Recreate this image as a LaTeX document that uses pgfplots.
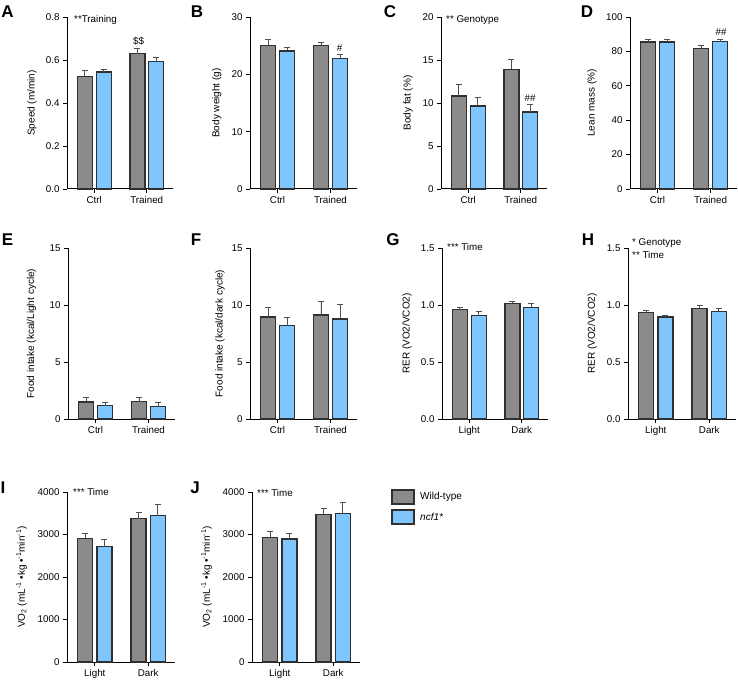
\documentclass[border=0pt]{standalone}
\usepackage{fontspec}
\setmainfont{Liberation Sans}
\usepackage{pgfplots}
\pgfplotsset{compat=1.18}
\definecolor{wtgray}{HTML}{8C8A8B}
\definecolor{koblue}{HTML}{7EC6FD}
\definecolor{edge}{HTML}{303030}
\definecolor{errc}{HTML}{505050}
\pgfplotsset{
 panel/.style={
  scale only axis, anchor=south west, clip=false,
  axis x line=bottom, axis y line=left,
  axis line style={-, line width=1pt, black},
  xmin=0.48, xmax=2.5, ymin=0,
  xtick={1,2},
  tick align=outside, major tick length=4pt,
  tick style={line width=0.9pt, black},
  ticklabel style={font=\fontsize{9.8}{11}\selectfont},
  /pgf/number format/assume math mode=true,
  /pgf/number format/set thousands separator={},
  label style={font=\fontsize{9.8}{11}\selectfont},
  every axis y label/.style={rotate=90, anchor=center},
 },
 bars/.style={ybar, bar width=15pt, bar shift=0pt, draw=edge, line width=1.4pt,
   error bars/y dir=plus, error bars/y explicit, error bars/error mark=-,
   error bars/error bar style={line width=0.9pt, color=errc},
   error bars/error mark options={rotate=90, mark size=3pt, line width=0.9pt, color=errc}},
 wt/.style={fill=wtgray, bars},
 ko/.style={fill=koblue, bars},
}
\begin{document}
\begin{tikzpicture}
% ---------- A ----------
\begin{axis}[panel, at={(67pt,497pt)}, width=106pt, height=172pt, ymax=0.8,
  ytick={0,0.2,0.4,0.6,0.8}, xticklabels={Ctrl,Trained},
  yticklabel style={/pgf/number format/.cd, fixed, fixed zerofill, precision=1},
  ylabel={Speed (m/min)}, ylabel style={at={(axis description cs:-0.33,0.5)}}]
\addplot[wt] table[x=x,y=y,y error=e]{
x y e
0.82 0.524 0.028
1.82 0.629 0.025
};
\addplot[ko] table[x=x,y=y,y error=e]{
x y e
1.18 0.544 0.013
2.18 0.592 0.022
};
\end{axis}
% ---------- B ----------
\begin{axis}[panel, at={(250pt,497pt)}, width=107pt, height=172pt, ymax=30,
  ytick={0,10,20,30}, xticklabels={Ctrl,Trained},
  ylabel={Body weight (g)}, ylabel style={at={(axis description cs:-0.31,0.5)}}]
\addplot[wt] table[x=x,y=y,y error=e]{
x y e
0.82 25.06 0.94
1.82 25.06 0.55
};
\addplot[ko] table[x=x,y=y,y error=e]{
x y e
1.18 24.07 0.65
2.18 22.73 0.67
};
\end{axis}
% ---------- C ----------
\begin{axis}[panel, at={(441pt,497pt)}, width=106pt, height=172pt, ymax=20,
  ytick={0,5,10,15,20}, xticklabels={Ctrl,Trained},
  ylabel={Body fat (\%)}, ylabel style={at={(axis description cs:-0.31,0.5)}}]
\addplot[wt] table[x=x,y=y,y error=e]{
x y e
0.82 10.8 1.35
1.82 13.9 1.17
};
\addplot[ko] table[x=x,y=y,y error=e]{
x y e
1.18 9.67 0.98
2.18 8.97 0.86
};
\end{axis}
% ---------- D ----------
\begin{axis}[panel, at={(630pt,497pt)}, width=107pt, height=172pt, ymax=100,
  ytick={0,20,40,60,80,100}, xticklabels={Ctrl,Trained},
  ylabel={Lean mass (\%)}, ylabel style={at={(axis description cs:-0.355,0.5)}}]
\addplot[wt] table[x=x,y=y,y error=e]{
x y e
0.82 85.4 1.8
1.82 81.6 1.7
};
\addplot[ko] table[x=x,y=y,y error=e]{
x y e
1.18 85.4 1.4
2.18 85.6 1.2
};
\end{axis}
% ---------- E ----------
\begin{axis}[panel, at={(68pt,267pt)}, width=107pt, height=171pt, ymax=15,
  ytick={0,5,10,15}, xticklabels={Ctrl,Trained},
  ylabel={Food intake (kcal/Light cycle)}, ylabel style={at={(axis description cs:-0.34,0.5)}}]
\addplot[wt] table[x=x,y=y,y error=e]{
x y e
0.82 1.49 0.41
1.82 1.52 0.41
};
\addplot[ko] table[x=x,y=y,y error=e]{
x y e
1.18 1.17 0.32
2.18 1.08 0.35
};
\end{axis}
% ---------- F ----------
\begin{axis}[panel, at={(250pt,267pt)}, width=107pt, height=171pt, ymax=15,
  ytick={0,5,10,15}, xticklabels={Ctrl,Trained},
  ylabel={Food intake (kcal/dark cycle)}, ylabel style={at={(axis description cs:-0.28,0.5)}}]
\addplot[wt] table[x=x,y=y,y error=e]{
x y e
0.82 8.95 0.87
1.82 9.12 1.20
};
\addplot[ko] table[x=x,y=y,y error=e]{
x y e
1.18 8.19 0.76
2.18 8.77 1.26
};
\end{axis}
% ---------- G ----------
\begin{axis}[panel, at={(442pt,267pt)}, width=106pt, height=171pt, ymax=1.5,
  ytick={0,0.5,1,1.5}, xticklabels={Light,Dark},
  yticklabel style={/pgf/number format/.cd, fixed, fixed zerofill, precision=1},
  ylabel={RER (VO2/VCO2)}, ylabel style={at={(axis description cs:-0.33,0.5)}}]
\addplot[wt] table[x=x,y=y,y error=e]{
x y e
0.82 0.959 0.021
1.82 1.015 0.015
};
\addplot[ko] table[x=x,y=y,y error=e]{
x y e
1.18 0.906 0.034
2.18 0.980 0.035
};
\end{axis}
% ---------- H ----------
\begin{axis}[panel, at={(628pt,267pt)}, width=108pt, height=171pt, ymax=1.5,
  ytick={0,0.5,1,1.5}, xticklabels={Light,Dark},
  yticklabel style={/pgf/number format/.cd, fixed, fixed zerofill, precision=1},
  ylabel={RER (VO2/VCO2)}, ylabel style={at={(axis description cs:-0.33,0.5)}}]
\addplot[wt] table[x=x,y=y,y error=e]{
x y e
0.82 0.933 0.017
1.82 0.971 0.028
};
\addplot[ko] table[x=x,y=y,y error=e]{
x y e
1.18 0.893 0.017
2.18 0.943 0.027
};
\end{axis}
% ---------- I ----------
\begin{axis}[panel, at={(67pt,24pt)}, width=108pt, height=170pt, ymax=4000,
  ytick={0,1000,2000,3000,4000}, xticklabels={Light,Dark},
  ylabel={VO\textsubscript{2} (mL\textsuperscript{-1} •kg •\textsuperscript{-1}min\textsuperscript{-1})},
  ylabel style={at={(axis description cs:-0.42,0.5)}}]
\addplot[wt] table[x=x,y=y,y error=e]{
x y e
0.82 2910 110
1.82 3373 141
};
\addplot[ko] table[x=x,y=y,y error=e]{
x y e
1.18 2714 180
2.18 3443 267
};
\end{axis}
% ---------- J ----------
\begin{axis}[panel, at={(252pt,24pt)}, width=108pt, height=170pt, ymax=4000,
  ytick={0,1000,2000,3000,4000}, xticklabels={Light,Dark},
  ylabel={VO\textsubscript{2} (mL\textsuperscript{-1} •kg •\textsuperscript{-1}min\textsuperscript{-1})},
  ylabel style={at={(axis description cs:-0.42,0.5)}}]
\addplot[wt] table[x=x,y=y,y error=e]{
x y e
0.82 2931 134
1.82 3473 134
};
\addplot[ko] table[x=x,y=y,y error=e]{
x y e
1.18 2892 134
2.18 3497 252
};
\end{axis}
\begin{scope}[x=1pt,y=1pt]
% ---------- annotations ----------
\begin{scope}[every node/.style={font=\fontsize{9.8}{11}\selectfont, inner sep=0pt}]
\node[anchor=west] at (74,666) {**Training};
\node at (138.5,645) {\$\$};
\node at (339.5,638) {\#};
\node[anchor=west] at (446,666) {** Genotype};
\node at (530,588) {\#\#};
\node at (721,654) {\#\#};
\node[anchor=west] at (447,439) {*** Time};
\node[anchor=west] at (632,443) {* Genotype};
\node[anchor=west] at (632,431) {** Time};
\node[anchor=west] at (73,194) {*** Time};
\node[anchor=west] at (257,193) {*** Time};
\end{scope}
% ---------- panel letters ----------
\begin{scope}[every node/.style={font=\fontsize{17}{19}\selectfont\bfseries, inner sep=0pt}]
\node at (7.5,674.5) {A};
\node at (197,674) {B};
\node at (390,674) {C};
\node at (587,674) {D};
\node at (7.5,446) {E};
\node at (196,446) {F};
\node at (393,446) {G};
\node at (588,446) {H};
\node at (3,198) {I};
\node at (195,198) {J};
\end{scope}
% ---------- legend ----------
\draw[fill=wtgray, draw=edge, line width=1.4pt] (392,182) rectangle (414,196);
\draw[fill=koblue, draw=edge, line width=1.4pt] (392,162) rectangle (414,176);
\node[anchor=west, font=\fontsize{10}{11}\selectfont, inner sep=0pt] at (420,189) {Wild-type};
\node[anchor=west, font=\fontsize{10}{11}\selectfont\itshape, inner sep=0pt] at (420,169) {ncf1*};
\pgfresetboundingbox
\useasboundingbox (0,0) rectangle (738,686);
\end{scope}
\end{tikzpicture}
\end{document}
